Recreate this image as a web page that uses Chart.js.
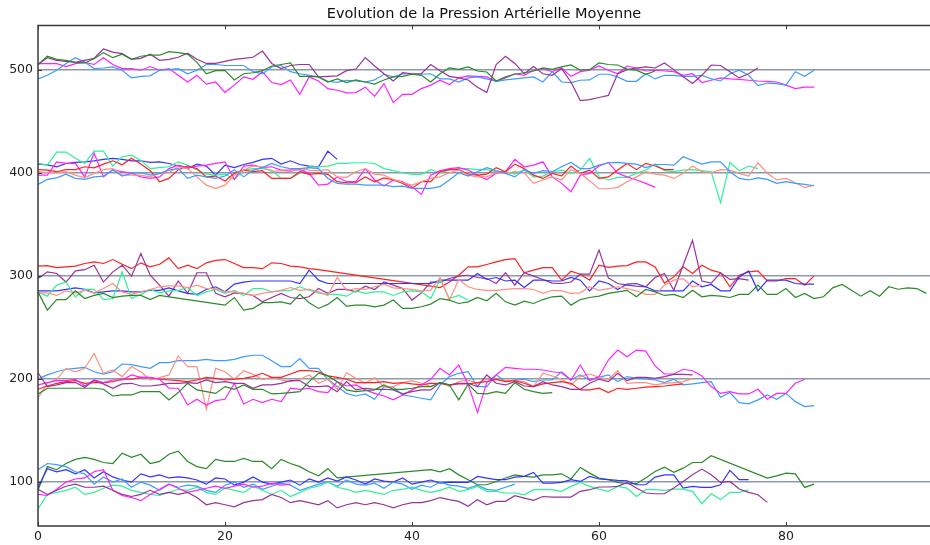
<!DOCTYPE html>
<html>
<head>
<meta charset="utf-8">
<script src="https://cdn.jsdelivr.net/npm/chart.js@4"></script>
<style>
  html, body { margin: 0; background: #fff; }
</style>
</head>
<body>
<canvas id="pamChart" width="930" height="545"></canvas>
<script>
// Evolution de la PAM - 5 groupes autour de 100..500

const titleText = 'Evolution de la Pression Artérielle Moyenne'
const xTicks = [0, 20, 40, 60, 80]
const yTicks = [100, 200, 300, 400, 500]

// groupe 500
const purple500 = [505,511.6,509,508,507,509,511,520,517,515.5,510,511,515,509,510,512,516,510,506,506,508,510,511,512,518,506,501,504,505,505,493,493.5,494,499,500.6,511.6,503.5,496,489,497,496,496,505,499,493.5,492,490,483,478,505,513,506,496,503,496,494.5,501,488,470,471,473,475,496,500,501.6,502.6,501.6,506.5,500,493,486.5,494.5,504.5,504,498,492,496,501.6]
const green500 = [505,513,510,509,507,506.5,510.6,516.5,511.6,515,510,513,514,514,517.4,516.5,515,507,496,499,499,490,496,497,499,503.5,505,506.5,493.5,493.5,493,488,491,487.5,490,488,486,490,493,493.5,495.5,494.5,488,496,501.6,500.3,502.6,498.7,497.7,489,493,495.5,497,498.7,501.6,500.3,502.6,504.5,499.4,500,506.5,505,504.5,500.5,499.5,495.5,498.7]
const dodger500 = [491,494.5,499.4,506,511.6,507.4,501,501.6,502.6,499.4,492,493.5,494,499.4,500,501,496,499.4,505,505,504,504,504,498,496,502.6,504,498,496,494.5,493,488.7,487.7,489.7,489,488,490,495.5,493,496,495.5,495.5,496,491,491,488,492,493,491,488.7,490,491,492,493,488,498,488,487.5,489.7,490,495.5,495.5,493,488.7,488.7,496,491,494.5,494.5,493.5,493.5,494.5,491,489,496,499.4,494.5,484.5,487,486.5,485,498,493.5,499.4]
const magenta500 = [505.8,505.8,505.8,503,505.8,507,505,511.6,505,501,501,499.4,503,499.4,501,494.5,488,494.5,486,488,478,485,493,490.6,498,487.5,485.5,490,476,493,489,481.6,480,477.4,477.7,483,474,486.5,468,476,476,481.6,485,489.7,485.5,492,494,493.5,493,488.7,492,496,494.5,499.4,501,498,501.6,493.5,498,499.4,503.5,499.4,496,503.5,501.6,498.7,499.4,498.7,498,494.5,496,487.5,489.7,492,491,490.6,489.7,489,488.7,488,485,481.6,483,483]

// groupe 400
const blue400 = [408.4,407.7,405.8,409,410,410.6,411.6,413,414,413,411.6,411.6,410,410.6,409,406.5,404,408.4,406.5,397.7,407.4,405,408,410,413,414,408.4,411.6,408,406.5,405.8,421,413]
const spring400 = [409,407.4,420,420,414,409,421,421,406.5,415.5,417,412,404,405,405.8,410.6,407.4,402.6,398.7,397.7,398.7,393.5,402.6,404,404,402.6,394.5,394.5,399.4,405.8,405.8,406.5,409,409,409.7,409.7,409,404,402,400,398.4,398.4,403,400,403,404,403.9,403,403,401,401,398.7,403,396,396.8,401,402.6,399.4,402.6,413.9,396,393,395.5,395.5,399.4,402.6,408.4,402,401,402.6,403,402,401,371,410,402,406.5,404]
const magenta400 = [397.7,397.7,410.6,409,409,396,419,396,403,401,399.4,396,394.5,396,404,407.4,405,406.5,407.4,409,410.6,393.5,406.5,407.4,405,405.8,402.6,402.6,403,399.4,388,389,396,391.3,391.3,404,393,387,393,391.3,386.5,379,397.7,402,404,405,402.6,397.7,393.5,399.4,401,413,405.8,407.4,410.6,396,389.7,381.6,397.7,399.4,406.5,410,399.4,396,393,389.7,385.8]
const red400 = [403,402.6,401,403,403,405.8,404.8,408.4,411.6,407.7,414,408.4,402,391.3,394.5,403,406.5,404,396,396.8,392,399.4,402.6,401,402,394.5,394.5,394.5,401,398.4,399.4,398.4,391.3,390.3,390.3,396,391.3,395,393,389.7,384.8,391.3,391.3,401,403,403,398.7,397.7,398.7,405,401,408.4,404,397.7,394.5,399.4,397,406.5,399.4,402.6,394.5,396,402.6,409,403,409,406.5,403,403]
const salmon400 = [401,400,400,401,397.7,395,399.4,403,404,397.7,397.7,397.7,396,399.4,400,405.8,404,396,388,384.8,388,397.7,402.6,406.5,405.8,401,402,401,404,402.6,402,403,396,395.5,401,404,398.7,397.7,393.5,390.3,388,391.3,394.5,396,400,402.6,397.7,396,396,400,399.4,401,400,389.7,393,396,393,403,399.4,392,384.5,384.5,385.8,391.3,396,401,398.7,397.7,394.5,399.4,406.5,401,400,403,402.6,399.4,396.8,409.7,399.4,393,394.5,390.3,385.5,388]
const dodger400 = [388.7,393.5,395,398.7,394.5,393.5,396,396.8,402.6,396.8,399.4,400,397.7,399.4,402.6,404,394.5,397.7,396,394.5,396.8,403,396,402.6,405,409,405.8,404,404,405,404,394.5,389.7,389,389,388,388,388,386.5,387,384.8,384.8,384.8,386.5,393,400,396.8,401,405,402,399.4,396,403,399.4,402,401,405.8,410,404,404,407.4,409.7,410,409,408.4,405,408,408,407.4,415.5,412,408.4,410.6,410.6,401,394.5,393,395,393.5,389.7,391.3,389.7,388.7,387.4]

// groupe 300 (null = point manquant, relié en ligne droite)
const red300 = [309.4,310,308,308.7,309.4,312,313.5,312,315.8,311.3,307,312.6,308.7,311.3,317.4,307,310.3,307,312.6,315,315.8,312,308,308,307,312.6,312,309.4,308.7,307,306,null,null,null,null,null,null,null,null,null,null,null,290,288.7,294,300.6,308.7,308.7,311,313.5,315.8,316.8,303,305.5,308,308,295.8,304.5,301.6,295.8,310.3,308.3,309.4,310,313.5,313.5,308.7,293,299,308.7,302.3,310.3,305.5,303,289.4,300.6,303.9,304.8,295,295,297.4,297.4,291,300]
const purple300 = [297.4,303.9,302.3,294,304.8,306,310.3,294,303.9,310.3,299.7,321.6,300.6,291,280.3,295,283,303,303,283,279.7,283.5,283,281,274.8,279,283,279,278,279.7,287.7,283,286.8,286.8,284.5,290,286.8,294,291,287.7,276.5,283.5,294,294,297.4,299.7,300.6,298.4,297.4,292.6,303,291,303,299.7,296.5,293,292.6,294,301.6,301.6,325,298,292.6,291,290,289.4,298.4,302.3,286,310.3,334.5,295,293,303,296.5,297.4,295.8]
const blue300 = [285.5,285.5,285.5,286.8,288.4,287,283.5,284.5,285.5,285.5,284.5,284.5,286,286,288.4,285.5,283,282,286.8,289.4,284.5,292,294,295,295,295,295,295,292.6,305.5,295.8,292.6,292.6,292.6,292.6,292.6,292.6,292.6,292.6,292.6,292.6,292.6,292.6,295.8,295.8,295.8,295.8,302.3,296.5,298.4,295,295.8,288.7,295.8,295.8,295,295,298.4,295.8,285.5,295,292.6,286.8,292,292.6,289.4,285.5,285.5,285.5,285.5,295,289.4,291.6,285.5,285.5,299,304.8,285.5,295.8,295.8,295.8,292.6,292,292]
const spring300 = [284.5,280.3,291,294,279.7,286.8,286.8,277,278,303.9,278,282,286.8,283.5,285.5,286,288.7,281,284.5,286.8,283,286,281,287.7,287.7,284.5,285.5,286,289.4,286,283.5,282,282,280.3,285.5,283,284.5,284.5,281,284.5,285.5,284.5,278,296.5,278,281,276.5]
const salmon300 = [283.5,283.5,281,285.5,283.5,286,283.5,287.7,292.6,284.5,282,284.5,286.8,289.4,290.3,290.3,288.7,291,287.7,287.7,284.5,284.5,283,281,283,284.5,286,288.7,286,286.8,284.5,281,298.4,286,287.7,286.8,289.4,292,288.4,287.7,286.8,285.5,286,298.4,276.5,296.5,289.4,286.8,286,286,286.8,287.7,287.7,286.8,283,286,285.5,283,283.5,289.4,286,287.7,289.4,287.7,285.5,282,282,291,295.8,297.4,289.4,291]
const green300 = [284.5,266.8,277,277,285.5,278,281,283,279,280.3,281,281,277,281,279.7,null,null,null,null,null,271.6,279,266.8,268.4,274,274,274.8,272.6,282,274,268.4,272.3,279,270.6,271.6,271.6,270,271.6,276.5,268.4,268.4,270,272.6,278,276.5,273.2,274.8,279,275.8,283,274.8,271.6,275.5,273.2,277,279.7,280.3,271.6,277,279,280.3,283,284.5,286,279.7,286.8,284.5,281,282,279,286,279.7,281,280.3,279,282,282,291,282,282,287.7,279,283,278,279.7,288.4,291.6,286,280.3,285.5,280.3,289.4,287,288.4,287.7,283]

// groupe 200
const dodger200 = [200,204,207,209.4,210.3,211.3,207,204.8,207,214.5,213.9,212,210.3,215.8,215.8,217.7,217.7,217.7,219,217.7,217.7,219,221.6,223,223,217.7,212,212,219.7,210.3,210.3,199.7,192.6,186,183.5,185.5,180.3,192.6,192,184.5,183,181.3,179.7,194.2,202.3,205.5,207,192.6,192.6,204,197.4,199,199.7,197.4,199,199,207,199,204,199,201.6,204,197.4,202.3,200.6,200,199,196.5,199.7,194.2,195.2,196.5,197.4,182.3,186.8,177,175.8,179.7,184.5,180.3,186,178,173.2,174.2]
const salmon200 = [181.3,195.8,199.7,210.3,207,210.3,224.8,205.5,208.7,202.3,212,207,199,201.3,203.9,222.3,212,212,170.6,210.3,207,199.7,208,204.5,199.7,201.6,199,197.4,199.7,203.9,195.8,199.7,190,206,200.6,195.8,201.3,192.6,192.6,196.5,198.4,195.8,192.6,196.5,192.6,197.4,199,195.8,199.7,199,198.4,198.4,197.4,192.6,205.5,202.9,199.7,194.2,202.3,204.8,201.6,199.7,208,195.8,196.5,196.5,194.2,195.8,196.5,197.4,200.6]
const red200 = [190,193.2,195.8,197.4,198.4,195.8,196.5,196.5,197.4,199.7,199.7,201.6,201.3,199.7,199,198.4,197.4,199,201.6,200.6,199,199.7,200.6,202.3,205.5,201.6,201.6,204.8,208,208,207,203,201.6,199.7,196.5,196.5,196.5,197.4,195.8,196.5,195.2,194.2,195.8,195.8,194.2,195.2,195.2,196.5,197.4,199.7,197.4,198.4,195.8,192.6,195.2,196.5,197.4,195.8,189.4,189.4,191,186.8,191,190,191,192,192.6,193.2,194.2,195.2]
const magenta200 = [194.2,196.5,198.4,198.4,199.7,193.2,199,196.5,199,199,203.9,201.6,201.6,199.7,191,191,174.8,180.3,174.8,179,180.3,195.8,175.8,180.3,177,180.3,178,191,190,191,187.7,186.8,197.4,193.2,194.2,189.4,186,183.5,179.7,184.5,189.4,194.2,199.7,210.3,203.9,213.5,195,167.4,196.5,203.9,211.3,210.3,209.4,209.4,208.7,207,206,199,213.5,198.4,202.3,218.4,228,221.6,228,227,212.6,204.8,204.8,209.4,208,203,192.6,186,187.7,185.5,185.5,190,180.3,186,186,195.8,199.7]
const purple200 = [206,192.6,194.2,196.5,196.5,192,198.4,195.2,191,195.2,195.8,193.2,193.2,194.2,195.8,195.8,196.5,195.8,199,196.5,197.4,195.8,195.8,191,194.2,194.2,195.8,198.4,198.4,192.6,192.6,193.2,187.7,197.4,189.4,191,190,190,189.4,185.5,187.7,189.4,189.4,196.5,194.2,195.8,195.8,192.6,203.9,195.8,194.2,197.4,193.2,192.6,197.4,194.2,192.6,190,190,195.8,199.7,197.4,205.5,198.4,201.6,201.6,200.6,202.3,204.5,204.5,203.9]
const green200 = [185.5,191,191,191,191,191,191,190,183.5,184.5,184.5,187.7,187.7,187.7,179.7,186.8,195.8,189.4,187.7,186,192.6,190,194.2,190,190,185.5,186,186.8,187.7,197.4,205.5,203,197.4,189.4,187.7,188.7,189.4,194.2,190,190,191,192.6,192.6,196.5,194.2,179.7,195,186,185.5,187.7,186,196.5,190,187.7,186,186.8]

// groupe 100
const green100 = [92,115,112,118,122,124,122,119,118,128,124,127,118,120,127,130,120,115,113,122,120,120,123,120,120,113,122,118,115,110,106,113,104,null,null,null,null,null,null,null,null,null,112,110,113,107,102.3,97.4,97.4,100.6,103.9,107,105.5,104.8,107,107,108,103,114.2,108.7,103.9,102.3,99.7,98.4,98.4,103.9,110.3,114.5,109.4,113.5,119,119,125.5,null,null,null,null,null,103.9,106,108.7,108,94.8,98]
const blue100 = [95,113,110,112,108,112,104,110,105,102,100,108,105,107,104,105,104,102,98,104,103,97,100,105,100,98,100,102,97,103,100,104,101,105,102,98,103,101,100,104,98,100,102,99,100,99.7,99.7,105.5,103.9,102.3,102.3,104.8,105.5,109.4,99,99,99.7,102.3,100.6,105.5,103,102.3,101.6,101.3,97.4,97.4,104.8,107,107,94.2,95.8,94.8,94.8,97.4,111.3,102.3,102.3]
const dodger100 = [112,118,117,115,110,108,98,105,100,103,95,100,97,92,98,95,97,96,92,90,97,100,95,98,93,96,99,97,92,95,98,100,96,102,98,97,99,94,100,98,93,97,95,100,97,96,94,97,93,92,95,98]
const spring100 = [74,88,90,92,95,88,90,94,97,96,92,90,88,87,90,93,92,95,90,88,94,92,90,96,92,88,92,86,90,94,96,100,95,93,90,92,90,88,92,93,95,92,90,92,95,91,92.6,95.8,91,91,89.4,89.4,87.7,92.6,92.6,92.6,91,95.8,99.7,95.8,93.2,91,95.8,94.2,86,92.6,92.6,92,93.2,93.2,91,79,88.7,83,90,90,92.6]
const magenta100 = [88,87,93,100,103,104,110,112,92,87,85,82,88,93,98,94,90,92,94,96,94,96,98,95,96,99,97,98]
const purple100 = [93,88,92,96,98,95,95,96,92,88,86,88,92,88,90,88,90,85,78,80,78,76,80,82,83,88,85,80,82,80,78,82,75,78,80,78,80,78,75,78,80,80,82,85,83,81.3,76.5,83,78,81.3,81.3,86.8,84.5,82.3,86,85.5,85.5,85.5,91,92.6,95.2,95.2,95.8,99.7,94.2,89.4,88.7,88.7,94.2,100.6,107,112.6,107,99.7,100.6,93.2,90,87.7,80.3]

const C = {
  purple: '#993399', green: '#2a8a2a', dodger: '#3d9bff', magenta: '#ff22ff',
  blue: '#3333ff', spring: '#2ef295', red: '#ff2020', salmon: '#ff8f80'
}

const series = [
  [green500, C.green], [purple500, C.purple], [dodger500, C.dodger], [magenta500, C.magenta],
  [dodger400, C.dodger], [salmon400, C.salmon], [red400, C.red], [magenta400, C.magenta], [spring400, C.spring], [blue400, C.blue],
  [green300, C.green], [salmon300, C.salmon], [spring300, C.spring], [blue300, C.blue], [purple300, C.purple], [red300, C.red],
  [green200, C.green], [purple200, C.purple], [magenta200, C.magenta], [red200, C.red], [salmon200, C.salmon], [dodger200, C.dodger],
  [purple100, C.purple], [magenta100, C.magenta], [spring100, C.spring], [dodger100, C.dodger], [blue100, C.blue], [green100, C.green]
]

const datasets = series.map(([vals, color]) => ({
  data: vals.map((v, i) => ({x: i, y: v})),
  borderColor: color,
  borderWidth: 1.2,
  pointRadius: 0,
  fill: false,
  tension: 0,
  spanGaps: true
}))

// cadre + graduations vers l'interieur
const frame = {
  id: 'frame',
  afterDatasetsDraw(chart) {
    const {ctx, chartArea: a, scales: {x, y}} = chart
    ctx.save()
    ctx.strokeStyle = '#3a3a3a'
    ctx.lineWidth = 1.5
    ctx.beginPath()
    ctx.moveTo(a.right + 2, a.top)
    ctx.lineTo(a.left, a.top)
    ctx.lineTo(a.left, a.bottom)
    ctx.lineTo(a.right + 2, a.bottom)
    ctx.stroke()
    ctx.lineWidth = 1
    ctx.beginPath()
    xTicks.forEach(v => {
      const px = Math.round(x.getPixelForValue(v)) + 0.5
      ctx.moveTo(px, a.top); ctx.lineTo(px, a.top + 4)
      ctx.moveTo(px, a.bottom); ctx.lineTo(px, a.bottom - 4)
    })
    yTicks.forEach(v => {
      const py = Math.round(y.getPixelForValue(v)) + 0.5
      ctx.moveTo(a.left, py); ctx.lineTo(a.left + 4, py)
    })
    ctx.stroke()
    ctx.restore()
  }
}

const tickFont = {family: 'DejaVu Sans', size: 12.5}

new Chart(document.getElementById('pamChart'), {
  type: 'line',
  data: {datasets},
  plugins: [frame],
  options: {
    responsive: false,
    animation: false,
    devicePixelRatio: 1,
    layout: {padding: 0},
    plugins: {
      legend: {display: false},
      tooltip: {enabled: false},
      title: {
        display: true,
        text: titleText,
        fullSize: false,
        color: '#111',
        font: {family: 'DejaVu Sans', size: 14.5, weight: 'normal'},
        padding: {top: 6, bottom: 2}
      }
    },
    scales: {
      x: {
        type: 'linear',
        min: 0,
        max: 95.4,
        afterBuildTicks: s => { s.ticks = xTicks.map(v => ({value: v})) },
        afterFit: s => { s.height = 19 },
        grid: {display: false, drawTicks: false},
        border: {display: false},
        ticks: {font: tickFont, color: '#222', padding: 3, maxRotation: 0}
      },
      y: {
        type: 'linear',
        min: 57.4,
        max: 542.9,
        afterBuildTicks: s => { s.ticks = yTicks.map(v => ({value: v})) },
        afterFit: s => { s.width = 38 },
        grid: {color: '#8c99a8', lineWidth: 1.5, drawTicks: false},
        border: {display: false},
        ticks: {font: tickFont, color: '#222', padding: 5}
      }
    }
  }
})
</script>
</body>
</html>
